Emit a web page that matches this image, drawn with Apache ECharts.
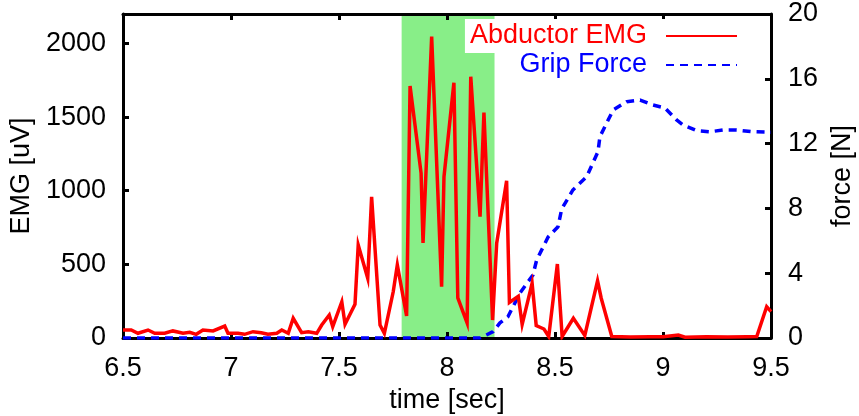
<!DOCTYPE html>
<html>
<head>
<meta charset="utf-8">
<script src="https://cdn.jsdelivr.net/npm/echarts@6/dist/echarts.min.js"></script>
<style>
  html, body { margin: 0; padding: 0; background: #fff; }
  #chart { width: 859px; height: 416px; }
</style>
</head>
<body>
<div id="chart"></div>
<script>
// EMG samples (time in sec, amplitude in uV)
var emgTime = [
  6.500, 6.538, 6.569, 6.616, 6.647, 6.693, 6.731, 6.778, 6.809, 6.839,
  6.870, 6.917, 6.971, 6.986, 7.032, 7.063, 7.102, 7.140, 7.171, 7.212,
  7.235, 7.265, 7.288, 7.327, 7.358, 7.397, 7.420, 7.455, 7.471, 7.513,
  7.528, 7.574, 7.589, 7.633, 7.651, 7.690, 7.710, 7.751, 7.770, 7.813,
  7.829, 7.880, 7.889, 7.929, 7.975, 7.986, 8.032, 8.050, 8.093, 8.110,
  8.153, 8.171, 8.211, 8.230, 8.276, 8.289, 8.330, 8.348, 8.394, 8.413,
  8.449, 8.471, 8.511, 8.533, 8.585, 8.638, 8.697, 8.714, 8.763, 8.850,
  8.940, 9.001, 9.071, 9.102, 9.200, 9.300, 9.388, 9.434, 9.480, 9.500
];
var emgValue = [
  54, 54, 32, 54, 32, 32, 48, 32, 39, 25,
  54, 48, 81, 32, 32, 25, 43, 36, 25, 32,
  54, 32, 134, 36, 43, 32, 88, 156, 77, 246,
  93, 229, 631, 405, 959, 88, 32, 314, 496, 149,
  1711, 1120, 645, 2046, 348, 1095, 1733, 272, 102, 1774,
  824, 1530, 122, 643, 1068, 241, 283, 92, 371, 85,
  61, 10, 502, 10, 134, 17, 388, 270, 10, 6,
  8, 9, 20, 5, 8, 6, 9, 10, 213, 179
];

// grip force (time in sec, force in N)
var forceTime = [
  6.500, 8.153, 8.213, 8.245, 8.282, 8.338, 8.398, 8.415, 8.468, 8.514,
  8.531, 8.583, 8.647, 8.699, 8.708, 8.769, 8.832, 8.894, 8.954, 9.009,
  9.063, 9.093, 9.156, 9.218, 9.278, 9.341, 9.417, 9.500
];
var forceValue = [
  0, 0, 0.39, 0.93, 1.31, 2.78, 3.89, 4.81, 6.23, 6.87,
  7.96, 9.14, 9.96, 11.5, 12.43, 14.07, 14.59, 14.69, 14.38, 14.2,
  13.46, 13.15, 12.8, 12.73, 12.84, 12.84, 12.73, 12.7
];

// shaded window (sec)
var windowStart = 7.79;
var windowEnd = 8.22;

var FONT = 'Liberation Sans, Arial, Helvetica, sans-serif';

var chart = echarts.init(document.getElementById('chart'));

var timeAxisBase = {
  type: 'value',
  min: 6.5,
  max: 9.5,
  interval: 0.5,
  z: 1.5,
  axisLine: { show: true, onZero: false, lineStyle: { color: '#000', width: 3 } },
  axisTick: { show: true, inside: true, length: 6, lineStyle: { color: '#000', width: 3 } },
  splitLine: { show: false }
};

var legendBase = {
  align: 'right',
  itemWidth: 71,
  itemHeight: 14,
  selectedMode: false,
  // hide the dot that ECharts puts on line legend icons
  itemStyle: { opacity: 0 },
  textStyle: { fontSize: 27, fontFamily: FONT, lineHeight: 30, padding: [0, 14, 0, 0] }
};

chart.setOption({
  animation: false,
  backgroundColor: '#fff',
  textStyle: { fontFamily: FONT },
  grid: { left: 123, right: 88, top: 14, bottom: 78, containLabel: false, outerBoundsMode: 'none' },
  legend: [
    Object.assign({}, legendBase, {
      data: [{ name: 'Abductor EMG', textStyle: { color: '#ff0000' } }],
      right: 116,
      top: 19,
      backgroundColor: '#fff',
      padding: [2, 5, 2, 5]
    }),
    Object.assign({}, legendBase, {
      data: [{ name: 'Grip Force', textStyle: { color: '#0000ff' } }],
      right: 121,
      top: 50,
      padding: 0
    })
  ],
  xAxis: [
    Object.assign({}, timeAxisBase, {
      position: 'bottom',
      name: 'time [sec]',
      nameLocation: 'middle',
      nameGap: 45,
      nameTextStyle: { fontSize: 27, color: '#000', fontFamily: FONT },
      axisLabel: { color: '#000', fontSize: 27, margin: 17, fontFamily: FONT }
    }),
    Object.assign({}, timeAxisBase, {
      position: 'top',
      axisLabel: { show: false }
    })
  ],
  yAxis: [{
    type: 'value',
    position: 'left',
    min: 0,
    max: 2200,
    interval: 500,
    z: 1.5,
    name: 'EMG [uV]',
    nameLocation: 'middle',
    nameGap: 74,
    nameTextStyle: { fontSize: 27, color: '#000', fontFamily: FONT },
    axisLine: { show: true, lineStyle: { color: '#000', width: 3 } },
    axisTick: { show: true, inside: true, length: 6, lineStyle: { color: '#000', width: 3 } },
    axisLabel: {
      color: '#000', fontSize: 27, margin: 17, showMaxLabel: false, fontFamily: FONT,
      formatter: function (v) { return String(v); }
    },
    splitLine: { show: false }
  }, {
    type: 'value',
    position: 'right',
    min: 0,
    max: 20,
    interval: 4,
    z: 1.5,
    name: 'force [N]',
    nameLocation: 'middle',
    nameGap: 52,
    nameTextStyle: { fontSize: 27, color: '#000', fontFamily: FONT },
    axisLine: { show: true, lineStyle: { color: '#000', width: 3 } },
    axisTick: { show: true, inside: true, length: 6, lineStyle: { color: '#000', width: 3 } },
    axisLabel: { color: '#000', fontSize: 27, margin: 17, fontFamily: FONT },
    splitLine: { show: false }
  }],
  series: [{
    name: 'Abductor EMG',
    type: 'line',
    xAxisIndex: 0,
    yAxisIndex: 0,
    symbol: 'none',
    showSymbol: false,
    z: 3,
    data: emgTime.map(function (t, i) { return [t, emgValue[i]]; }),
    itemStyle: { color: '#ff0000' },
    lineStyle: { color: '#ff0000', width: 3.5, join: 'miter' },
    markArea: {
      silent: true,
      z: 1,
      itemStyle: { color: '#88ee88' },
      data: [[{ xAxis: windowStart }, { xAxis: windowEnd }]]
    }
  }, {
    name: 'Grip Force',
    type: 'line',
    xAxisIndex: 0,
    yAxisIndex: 1,
    symbol: 'none',
    showSymbol: false,
    z: 2,
    data: forceTime.map(function (t, i) { return [t, forceValue[i]]; }),
    itemStyle: { color: '#0000ff' },
    lineStyle: { color: '#0000ff', width: 3.5, type: [8, 6] }
  }]
});
</script>
</body>
</html>
